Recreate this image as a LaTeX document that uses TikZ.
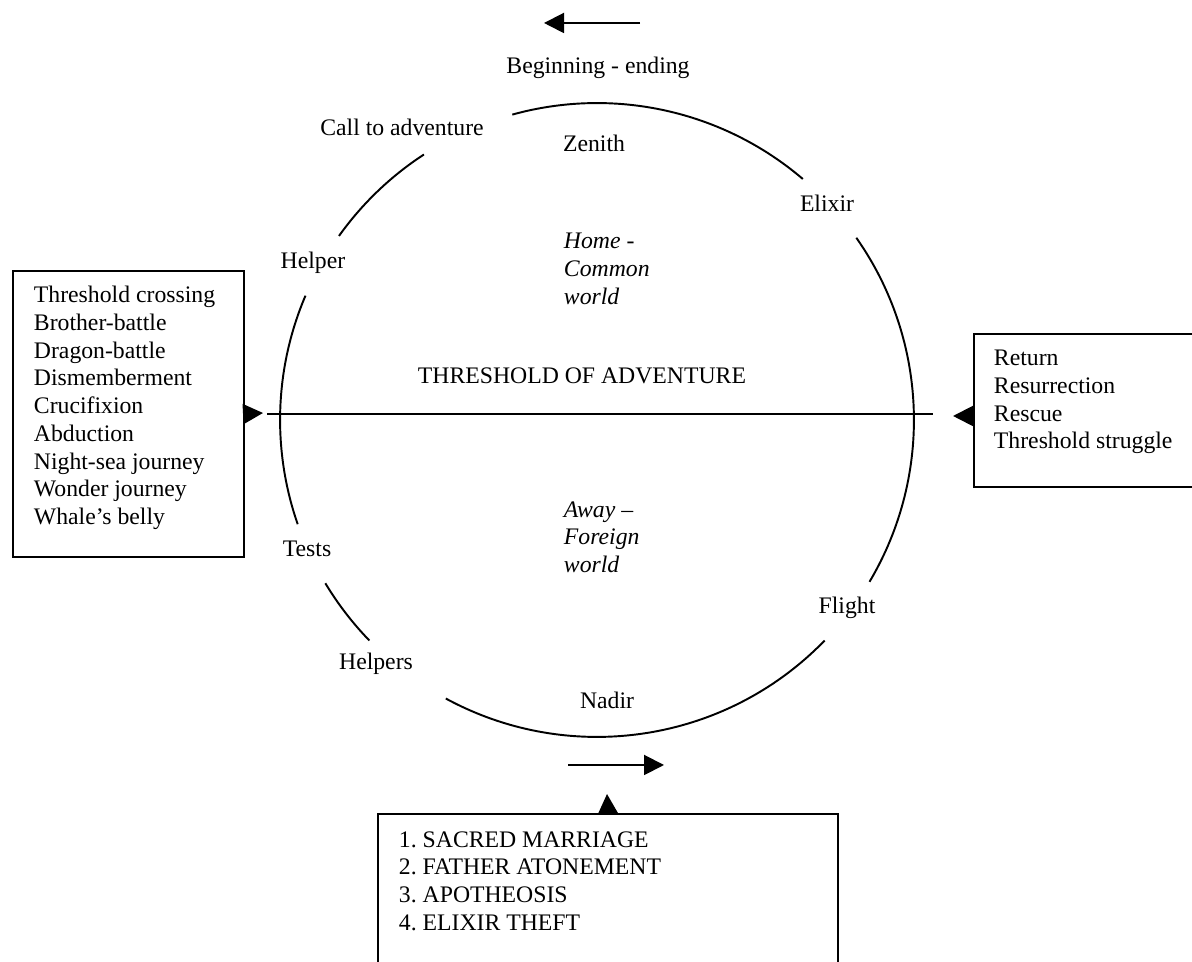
\documentclass[tikz,border=0pt]{standalone}
\usepackage{fontspec}
\setmainfont{Liberation Serif}
\usetikzlibrary{arrows.meta, positioning}

\begin{document}
\begin{tikzpicture}[
x=0.02cm, y=0.02cm,
line width=1.1pt,
every node/.style={font=\fontsize{13.5}{15.75}\selectfont\frenchspacing, inner sep=0pt},
box/.style={rectangle, draw=black, anchor=north west},
stage/.style={align=left, anchor=west},
arrowhead/.style={-{Triangle[length=0.4cm, width=0.4cm]}}
]
\useasboundingbox (0,0) rectangle (1192,962);
\clip (0,0) rectangle (1192,962);

% the cycle, broken where the stage names sit
\coordinate (c) at (597,542);
\def\rad{6.34cm}
\draw ([shift={(c)}]49.5:\rad) arc[start angle=49.5, end angle=105.5, radius=\rad];
\draw ([shift={(c)}]123.1:\rad) arc[start angle=123.1, end angle=144.5, radius=\rad];
\draw ([shift={(c)}]156.9:\rad) arc[start angle=156.9, end angle=199.2, radius=\rad];
\draw ([shift={(c)}]211:\rad) arc[start angle=211, end angle=224.1, radius=\rad];
\draw ([shift={(c)}]241.5:\rad) arc[start angle=241.5, end angle=315.9, radius=\rad];
\draw ([shift={(c)}]-30.7:\rad) arc[start angle=-30.7, end angle=35.1, radius=\rad];

% threshold line
\coordinate (thL) at (267,548);
\coordinate (thR) at (933,548);
\draw (thL) -- (thR);

% direction arrows
\coordinate (topA) at (640,939);
\coordinate (topB) at (544,939);
\draw[arrowhead] (topA) -- (topB);
\coordinate (botA) at (568,197);
\coordinate (botB) at (664,197);
\draw[arrowhead] (botA) -- (botB);

% labels round the cycle
\node (begin) at (598,894) {Beginning - ending};
\node (call) at (402,835) {Call to adventure};
\node (zenith) at (594,819) {Zenith};
\node (elixir) at (827,759) {Elixir};
\node (helper) at (313,699) {Helper};
\node (threshold) at (582,586) {THRESHOLD OF ADVENTURE};
\node (tests) at (307,413) {Tests};
\node (helpers) at (376,298) {Helpers};
\node (nadir) at (607,262) {Nadir};
\node (flight) at (847,354) {Flight};
\node[stage] (home) at (563,693) {\itshape Home -\\\itshape Common\\\itshape world};
\node[stage] (away) at (563,425) {\itshape Away --\\\itshape Foreign\\\itshape world};

% boxes
\node[box, minimum width=4.62cm, minimum height=5.72cm] (crossing) at (12,692) {};
\node[stage] (crossing-text) at (33,554) {Threshold crossing\\Brother-battle\\Dragon-battle\\Dismemberment\\Crucifixion\\Abduction\\Night-sea journey\\Wonder journey\\Whale’s belly};
\node[box, minimum width=4.6cm, minimum height=3.06cm] (returnbox) at (973,629) {};
\node[stage] (returnbox-text) at (993,560) {Return\\Resurrection\\Rescue\\Threshold struggle};
\node[box, minimum width=9.2cm, minimum height=3.8cm] (trialbox) at (377,149) {};
\node[stage] (trialbox-text) at (398,81) {1. SACRED MARRIAGE\\2. FATHER ATONEMENT\\3. APOTHEOSIS\\4. ELIXIR THEFT};

% pointers from the boxes
\coordinate (tipL) at (263,549);
\draw[arrowhead] (crossing.east) -- (tipL);
\coordinate (tipR) at (953,546);
\draw[arrowhead] (returnbox.west |- tipR) -- (tipR);
\coordinate (tipB) at (607,168);
\draw[arrowhead] (trialbox.north) -- (tipB);

\end{tikzpicture}
\end{document}
